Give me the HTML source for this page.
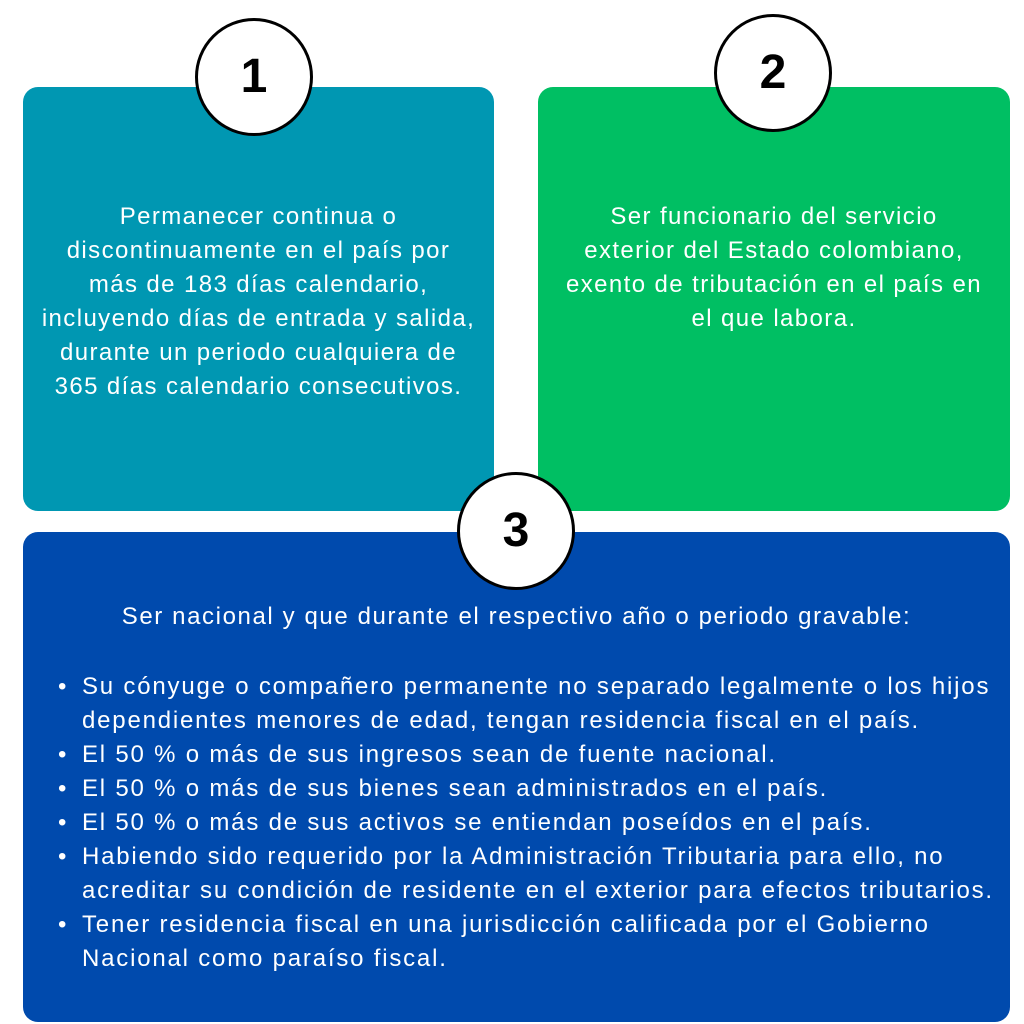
<!DOCTYPE html><html><head><style>
body{margin:0;width:1024px;height:1024px;background:#fff;position:relative;font-family:"Liberation Sans",sans-serif;overflow:hidden}
.b{position:absolute;border-radius:15px;color:#fff}
.t{position:absolute;color:#fff;font-size:24px;letter-spacing:1.4px;line-height:34px;text-align:center;white-space:nowrap}
.c{position:absolute;width:112px;height:112px;border:3px solid #000;border-radius:50%;background:#fff;font-weight:bold;font-size:48px;line-height:112px;text-align:center;color:#000}
ul{margin:0;padding:0;list-style:none}
li{position:relative;padding-left:0}
li:before{content:"•";position:absolute;left:-24px}
</style></head><body>
<div class="b" style="left:23px;top:87px;width:471px;height:424px;background:#0097b2"></div>
<div class="b" style="left:538px;top:87px;width:472px;height:424px;background:#00bf63"></div>
<div class="b" style="left:23px;top:532px;width:987px;height:490px;background:#004aad"></div>
<div class="t" style="left:23px;top:200px;width:471px">Permanecer continua o<br>discontinuamente en el país por<br>más de 183 días calendario,<br>incluyendo días de entrada y salida,<br>durante un periodo cualquiera de<br>365 días calendario consecutivos.</div>
<div class="t" style="left:538px;top:200px;width:472px">Ser funcionario del servicio<br>exterior del Estado colombiano,<br>exento de tributación en el país en<br>el que labora.</div>
<div class="t" style="left:23px;top:600px;width:987px;letter-spacing:1.6px">Ser nacional y que durante el respectivo año o periodo gravable:</div>
<div class="t" style="left:82px;top:670px;width:930px;text-align:left;letter-spacing:1.8px"><ul>
<li>Su cónyuge o compañero permanente no separado legalmente o los hijos<br>dependientes menores de edad, tengan residencia fiscal en el país.</li>
<li>El 50 % o más de sus ingresos sean de fuente nacional.</li>
<li>El 50 % o más de sus bienes sean administrados en el país.</li>
<li>El 50 % o más de sus activos se entiendan poseídos en el país.</li>
<li>Habiendo sido requerido por la Administración Tributaria para ello, no<br>acreditar su condición de residente en el exterior para efectos tributarios.</li>
<li>Tener residencia fiscal en una jurisdicción calificada por el Gobierno<br>Nacional como paraíso fiscal.</li>
</ul></div>
<div class="c" style="left:195px;top:18px">1</div>
<div class="c" style="left:714px;top:14px">2</div>
<div class="c" style="left:457px;top:472px">3</div>
</body></html>
